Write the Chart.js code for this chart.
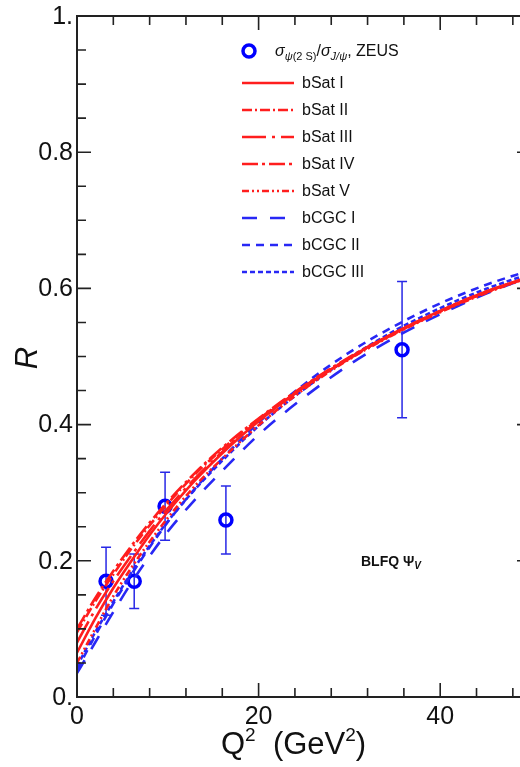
<!DOCTYPE html>
<html>
<head>
<meta charset="utf-8">
<script src="https://cdn.jsdelivr.net/npm/chart.js@4"></script>
<style>
  html, body { margin: 0; padding: 0; background: #fff; overflow: hidden; }
  #wrap { width: 520px; height: 767px; overflow: hidden; }
</style>
</head>
<body>
<div id="wrap"><canvas id="rChart" width="545" height="767"></canvas></div>
<script>
// Q^2 grid of the model curves (GeV^2)
const q2 = [0, 2, 4, 6, 8, 10, 13, 16, 20, 25, 30, 35, 40, 45, 50];

// model curves R = sigma(psi(2S)) / sigma(J/psi)
const bSatI   = [0.065, 0.115, 0.160, 0.200, 0.238, 0.272, 0.318, 0.358, 0.405, 0.455, 0.498, 0.535, 0.567, 0.595, 0.618];
const bSatII  = [0.095, 0.140, 0.180, 0.218, 0.252, 0.284, 0.327, 0.364, 0.408, 0.456, 0.498, 0.534, 0.566, 0.594, 0.617];
const bSatIII = [0.080, 0.128, 0.170, 0.208, 0.244, 0.277, 0.321, 0.360, 0.406, 0.455, 0.497, 0.534, 0.566, 0.594, 0.618];
const bSatIV  = [0.100, 0.145, 0.185, 0.222, 0.256, 0.287, 0.329, 0.366, 0.409, 0.457, 0.499, 0.535, 0.567, 0.595, 0.617];
const bSatV   = [0.050, 0.100, 0.148, 0.190, 0.228, 0.263, 0.310, 0.350, 0.399, 0.452, 0.496, 0.533, 0.565, 0.593, 0.617];
const bCGCI   = [0.035, 0.080, 0.125, 0.168, 0.207, 0.243, 0.290, 0.332, 0.385, 0.440, 0.488, 0.528, 0.562, 0.592, 0.618];
const bCGCII  = [0.040, 0.090, 0.137, 0.180, 0.220, 0.257, 0.306, 0.350, 0.403, 0.459, 0.506, 0.545, 0.578, 0.605, 0.627];
const bCGCIII = [0.045, 0.095, 0.140, 0.183, 0.222, 0.258, 0.305, 0.347, 0.398, 0.452, 0.498, 0.538, 0.571, 0.599, 0.622];

// ZEUS data points
const zeusQ2  = [3.2, 6.3, 9.7, 16.4, 35.8];
const zeusR   = [0.17, 0.17, 0.28, 0.26, 0.51];
const zeusErr = [0.05, 0.04, 0.05, 0.05, 0.10];

// axis tick labels
const xTickVals = [0, 20, 40];
const xTickText = ['0', '20', '40'];
const yTickVals = [0, 0.2, 0.4, 0.6, 0.8, 1];
const yTickText = ['0.', '0.2', '0.4', '0.6', '0.8', '1.'];

const RED = 'rgb(255,30,30)';
const BLUE = 'rgb(40,40,245)';
const FONT = '"Liberation Sans", Arial, sans-serif';

function curve(label, values, color, dash) {
  return {
    type: 'line',
    label: label,
    data: q2.map((q, i) => ({ x: q, y: values[i] })),
    borderColor: color,
    borderWidth: 2.6,
    borderDash: dash,
    pointRadius: 0,
    fill: false,
    cubicInterpolationMode: 'monotone'
  };
}

const datasets = [
  curve('bSat I', bSatI, RED, []),
  curve('bSat II', bSatII, RED, [10, 3, 2, 3]),
  curve('bSat III', bSatIII, RED, [24, 6, 3, 6]),
  curve('bSat IV', bSatIV, RED, [16, 4, 3, 4]),
  curve('bSat V', bSatV, RED, [7, 3, 2, 3, 2, 3]),
  curve('bCGC I', bCGCI, BLUE, [15, 13]),
  curve('bCGC II', bCGCII, BLUE, [8, 6]),
  curve('bCGC III', bCGCIII, BLUE, [5, 3]),
  {
    type: 'scatter',
    label: 'ZEUS',
    data: zeusQ2.map((q, i) => ({ x: q, y: zeusR[i] })),
    pointRadius: 6,
    pointBorderWidth: 3.5,
    borderColor: 'rgb(0,0,255)',
    backgroundColor: 'rgba(0,0,0,0)',
    pointStyle: 'circle'
  }
];

const frame = {
  id: 'frame',
  beforeDatasetsDraw(chart) {
    // error bars of the ZEUS points
    const ctx = chart.ctx, x = chart.scales.x, y = chart.scales.y;
    ctx.save();
    ctx.strokeStyle = 'rgb(40,40,230)';
    ctx.lineWidth = 1.5;
    zeusQ2.forEach((q, i) => {
      const px = x.getPixelForValue(q);
      const top = y.getPixelForValue(zeusR[i] + zeusErr[i]);
      const bot = y.getPixelForValue(zeusR[i] - zeusErr[i]);
      ctx.beginPath();
      ctx.moveTo(px, top); ctx.lineTo(px, bot);
      ctx.moveTo(px - 5, top); ctx.lineTo(px + 5, top);
      ctx.moveTo(px - 5, bot); ctx.lineTo(px + 5, bot);
      ctx.stroke();
    });
    ctx.restore();
  },
  afterDraw(chart) {
    const ctx = chart.ctx, x = chart.scales.x, y = chart.scales.y;
    const a = chart.chartArea;
    ctx.save();
    // frame
    ctx.strokeStyle = '#222';
    ctx.lineWidth = 2;
    ctx.strokeRect(a.left, a.top, a.right - a.left, a.bottom - a.top);
    // ticks
    ctx.lineWidth = 1.6;
    ctx.beginPath();
    for (let v = 0; v <= 1.0001; v += 0.05) {
      const major = Math.abs(v * 5 - Math.round(v * 5)) < 1e-6;
      const len = major ? 14 : 9;
      const py = y.getPixelForValue(v);
      ctx.moveTo(a.left, py); ctx.lineTo(a.left + len, py);
      ctx.moveTo(a.right, py); ctx.lineTo(a.right - len, py);
    }
    for (let v = 0; v <= 50; v += 4) {
      const major = v % 20 === 0;
      const len = major ? 14 : 9;
      const px = x.getPixelForValue(v);
      ctx.moveTo(px, a.bottom); ctx.lineTo(px, a.bottom - len);
      ctx.moveTo(px, a.top); ctx.lineTo(px, a.top + len);
    }
    ctx.stroke();
    // tick labels
    ctx.fillStyle = '#111';
    ctx.font = '25px ' + FONT;
    ctx.textAlign = 'right';
    ctx.textBaseline = 'middle';
    yTickVals.forEach((v, i) => ctx.fillText(yTickText[i], a.left - 4, y.getPixelForValue(v) + 1));
    ctx.textAlign = 'center';
    ctx.textBaseline = 'top';
    xTickVals.forEach((v, i) => ctx.fillText(xTickText[i], x.getPixelForValue(v), a.bottom + 8));
    // x title  Q^2 (GeV^2)
    ctx.textAlign = 'left';
    ctx.textBaseline = 'alphabetic';
    let tx = 221;
    const base = 754;
    const big = '31px ' + FONT, sup = '19px ' + FONT;
    const parts = [['Q', big, 0], ['2', sup, -13], ['  (GeV', big, 0], ['2', sup, -13], [')', big, 0]];
    parts.forEach(p => {
      ctx.font = p[1];
      ctx.fillText(p[0], tx, base + p[2]);
      tx += ctx.measureText(p[0]).width;
    });
    // y title R
    ctx.save();
    ctx.translate(37, 358);
    ctx.rotate(-Math.PI / 2);
    ctx.font = 'italic 31px ' + FONT;
    ctx.textAlign = 'center';
    ctx.fillText('R', 0, 0);
    ctx.restore();
    // legend
    ctx.beginPath();
    ctx.arc(249, 51, 6, 0, Math.PI * 2);
    ctx.strokeStyle = 'rgb(0,0,255)';
    ctx.lineWidth = 3.5;
    ctx.stroke();
    ctx.fillStyle = '#111';
    let lx = 275;
    const lb = 56;
    const leg = [['σ', 'italic 16px ', 0], ['ψ', 'italic 11px ', 4], ['(2 S)', '11px ', 4], ['/', '16px ', 0],
                 ['σ', 'italic 16px ', 0], ['J/ψ', 'italic 11px ', 4], [', ZEUS', '16px ', 0]];
    leg.forEach(p => {
      ctx.font = p[1] + FONT;
      ctx.fillText(p[0], lx, lb + p[2]);
      lx += ctx.measureText(p[0]).width;
    });
    chart.data.datasets.forEach((ds, i) => {
      if (ds.type !== 'line') return;
      const ly = 83 + i * 27;
      ctx.beginPath();
      ctx.strokeStyle = ds.borderColor;
      ctx.lineWidth = ds.borderWidth;
      ctx.setLineDash(ds.borderDash);
      ctx.moveTo(242, ly); ctx.lineTo(294, ly);
      ctx.stroke();
      ctx.setLineDash([]);
      ctx.font = '16px ' + FONT;
      ctx.textBaseline = 'middle';
      ctx.fillText(ds.label, 302, ly + 1);
      ctx.textBaseline = 'alphabetic';
    });
    // model label
    ctx.font = 'bold 14px ' + FONT;
    ctx.fillText('BLFQ Ψ', 361, 566);
    const w = ctx.measureText('BLFQ Ψ').width;
    ctx.font = 'bold italic 10px ' + FONT;
    ctx.fillText('V', 361 + w, 569);
    ctx.restore();
  }
};

new Chart(document.getElementById('rChart').getContext('2d'), {
  type: 'line',
  data: { datasets: datasets },
  options: {
    responsive: false,
    animation: false,
    devicePixelRatio: 1,
    layout: { padding: { left: 77, right: 14, top: 16, bottom: 70 } },
    plugins: { legend: { display: false }, tooltip: { enabled: false } },
    scales: {
      x: { type: 'linear', min: 0, max: 50, display: false },
      y: { type: 'linear', min: 0, max: 1, display: false }
    }
  },
  plugins: [frame]
});
</script>
</body>
</html>
